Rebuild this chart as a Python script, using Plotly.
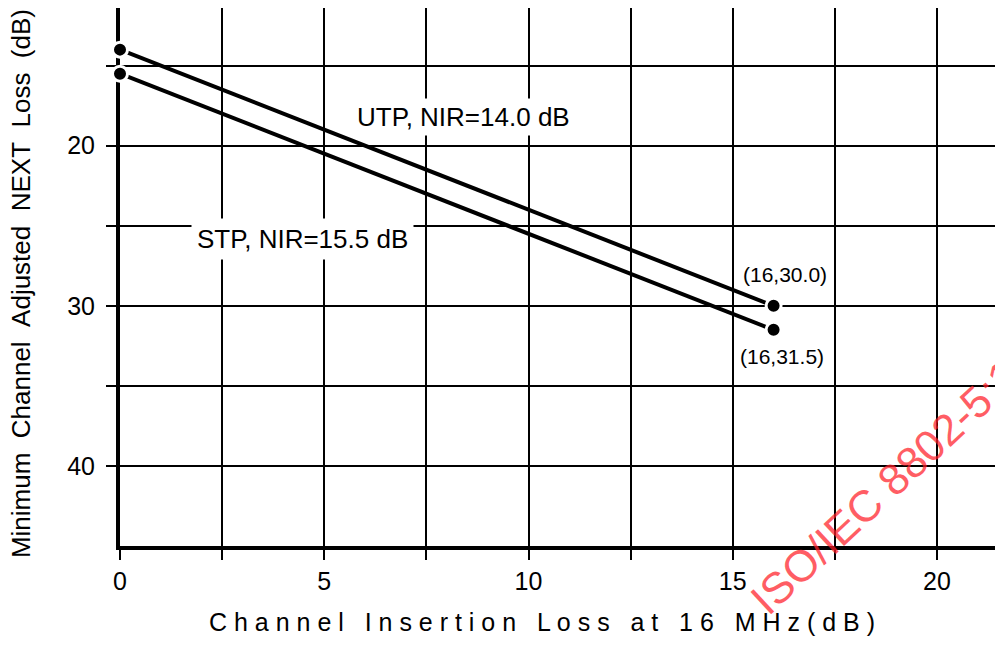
import plotly.graph_objects as go

# Channel insertion loss at 16 MHz (dB) vs minimum adjusted NEXT loss (dB)
insertion_loss = [0, 16]
utp_next = [14.0, 30.0]
stp_next = [15.5, 31.5]

x_ticks = [0, 2.5, 5, 7.5, 10, 12.5, 15, 17.5, 20]
x_tick_text = ["0", "", "5", "", "10", "", "15", "", "20"]
y_ticks = [15, 20, 25, 30, 35, 40]
y_tick_text = ["", "20", "", "30", "", "40"]

utp_label = "UTP, NIR=14.0 dB"
stp_label = "STP, NIR=15.5 dB"
stamp_text = "ISO/IEC 8802-5:1998"

NB = "\u00a0"
x_title = (NB * 3).join(" ".join(w) for w in ["Channel", "Insertion", "Loss", "at", "16", "MHz(dB)"])
y_title = (NB * 2).join(["Minimum", "Channel", "Adjusted", "NEXT", "Loss", "(dB)"])

tick_font = dict(family="Liberation Sans Narrow, Liberation Sans, Arial", size=25, color="black")
label_font = dict(family="Liberation Sans, Arial", size=26, color="black")
point_font = dict(family="Liberation Sans, Arial", size=21, color="black")

fig = go.Figure()
for yv in (utp_next, stp_next):
    fig.add_trace(go.Scatter(
        x=insertion_loss, y=yv, mode="lines+markers",
        line=dict(color="black", width=4),
        marker=dict(size=15, color="black", line=dict(color="white", width=3)),
        cliponaxis=False, showlegend=False, hoverinfo="skip",
    ))

fig.add_annotation(x=8.40, y=18.2, text=utp_label, showarrow=False, font=label_font,
                   xanchor="center", yanchor="middle", bgcolor="white", borderpad=3)
fig.add_annotation(x=4.46, y=25.8, text=stp_label, showarrow=False, font=label_font,
                   xanchor="center", yanchor="middle", bgcolor="white", borderpad=5)
fig.add_annotation(x=insertion_loss[1], y=utp_next[1], text=f"({insertion_loss[1]},{utp_next[1]:.1f})",
                   showarrow=False, font=point_font, xanchor="center", yanchor="middle",
                   xshift=11, yshift=31)
fig.add_annotation(x=insertion_loss[1], y=stp_next[1], text=f"({insertion_loss[1]},{stp_next[1]:.1f})",
                   showarrow=False, font=point_font, xanchor="center", yanchor="middle",
                   xshift=8, yshift=-27)

# axis titles
fig.add_annotation(xref="paper", yref="paper", x=0.482, y=-0.141, text=x_title, showarrow=False,
                   xanchor="center", yanchor="middle",
                   font=dict(family="Liberation Sans, Arial", size=25, color="black"))
fig.add_annotation(xref="paper", yref="paper", x=-0.113, y=0.487, text=y_title, showarrow=False,
                   xanchor="center", yanchor="middle", textangle=-90,
                   font=dict(family="Liberation Sans, Arial", size=26, color="black"))

# red stamp across the lower right corner
fig.add_annotation(xref="paper", yref="paper", x=0.904, y=0.156, text=stamp_text, showarrow=False,
                   xanchor="center", yanchor="middle", textangle=-43,
                   font=dict(family="Liberation Sans, Arial", size=44,
                             color="rgba(255,30,40,0.72)"))

fig.update_xaxes(
    range=[0, 21.42], tickvals=x_ticks, ticktext=x_tick_text,
    showgrid=True, gridcolor="black", gridwidth=2, zeroline=False,
    showline=True, linecolor="black", linewidth=4, layer="below traces",
    ticks="outside", ticklen=10, tickwidth=2, tickcolor="black",
    ticklabelstandoff=0, tickfont=tick_font,
)
fig.update_yaxes(
    range=[45, 11.4], tickvals=y_ticks, ticktext=y_tick_text,
    showgrid=True, gridcolor="black", gridwidth=2, zeroline=False,
    showline=True, linecolor="black", linewidth=4, layer="below traces",
    ticks="outside", ticklen=10, tickwidth=2, tickcolor="black",
    ticklabelstandoff=6, tickfont=tick_font,
)

fig.update_layout(
    width=995, height=645,
    margin=dict(l=120, r=0, t=8, b=99),
    plot_bgcolor="white", paper_bgcolor="white",
)

fig.write_html("out.html")
